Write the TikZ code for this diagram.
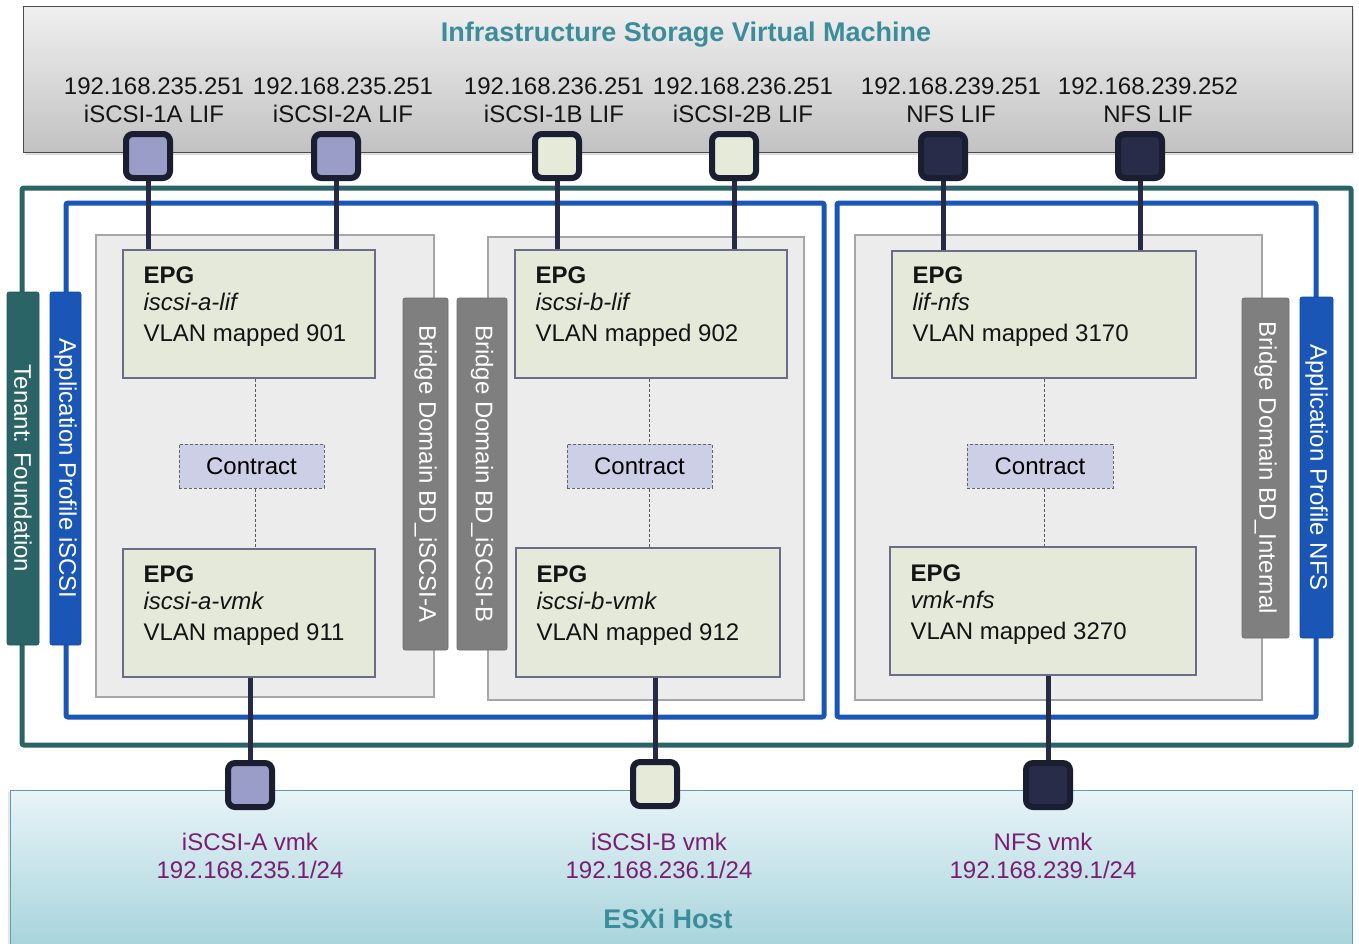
\documentclass[tikz,border=0pt]{standalone}
\usepackage{fontspec}
\setmainfont{Liberation Sans}
\usetikzlibrary{shadows}

\definecolor{tenantc}{HTML}{2B6467}
\definecolor{appc}{HTML}{1A56B6}
\definecolor{bdbar}{HTML}{7F7F7F}
\definecolor{bdfill}{HTML}{ECECEC}
\definecolor{bdline}{HTML}{A6A6A6}
\definecolor{epgfill}{HTML}{E5E9DA}
\definecolor{epgline}{HTML}{6C6C86}
\definecolor{ctfill}{HTML}{CDCFE6}
\definecolor{wirec}{HTML}{262A45}
\definecolor{portedge}{HTML}{1B1D30}
\definecolor{portA}{HTML}{9B9DC9}
\definecolor{portB}{HTML}{E6EAD9}
\definecolor{portN}{HTML}{282C48}
\definecolor{titlec}{HTML}{3B8D9B}
\definecolor{vmkc}{HTML}{7A1E70}
\definecolor{svmtop}{HTML}{F0F0F0}
\definecolor{svmbot}{HTML}{C2C2C2}
\definecolor{esxtop}{HTML}{E8F4F8}
\definecolor{esxbot}{HTML}{A6D3DB}
\definecolor{esxline}{HTML}{5E9FA4}

\pgfdeclarelayer{front}
\pgfsetlayers{main,front}

\begin{document}
\begin{tikzpicture}[x=1pt,y=-1pt,
  lbl/.style={font=\fontsize{24}{28}\selectfont, inner sep=0pt, text=black!92},
  titletxt/.style={font=\fontsize{27}{30}\selectfont\bfseries, inner sep=0pt, text=titlec},
  vmktxt/.style={font=\fontsize{24}{28}\selectfont, inner sep=0pt, text=vmkc, align=center, anchor=north},
  bartxt/.style={font=\fontsize{24}{28}\selectfont, inner sep=0pt, text=white, rotate=-90},
  barbox/.style={bartxt, rounded corners=2pt, draw=#1!85!black, line width=0.6pt, fill=#1},
  bdbox/.style={draw=bdline, fill=bdfill, line width=1.2pt, inner sep=0pt},
  epgbox/.style={draw=epgline, fill=epgfill, line width=1.4pt, inner sep=0pt},
  epgtxt/.style={font=\fontsize{24}{27}\selectfont, inner sep=0pt, align=left, anchor=north west, text=black!92},
  ctbox/.style={draw=black!60, dash pattern=on 3pt off 2pt, fill=ctfill, line width=1pt,
    minimum width=145pt, minimum height=44pt, inner sep=0pt, font=\fontsize{24}{28}\selectfont},
  dashln/.style={draw=black!65, dash pattern=on 3pt off 2pt, line width=1pt},
  wireln/.style={draw=wirec, line width=5pt},
  portbox/.style={draw=portedge, line width=6pt, rounded corners=7pt, minimum size=44pt, inner sep=0pt, fill=#1},
  tframe/.style={draw=tenantc, line width=5pt, rounded corners=2pt},
  aframe/.style={draw=appc, line width=5pt, rounded corners=2pt}]

\path[use as bounding box] (0,0) rectangle (1359,943);

% storage VM and host panels
\node[draw=black!70, line width=1pt, top color=svmtop, bottom color=svmbot,
  drop shadow={shadow xshift=2pt, shadow yshift=-3pt, opacity=0.25},
  minimum width=1329pt, minimum height=146pt, inner sep=0pt] (svm) at (687.5,79) {};
\node[titletxt, anchor=base] (svmtitle) at (686,41) {Infrastructure Storage Virtual Machine};

\node[draw=esxline, line width=1pt, top color=esxtop, bottom color=esxbot,
  drop shadow={shadow xshift=-2pt, shadow yshift=-2pt, opacity=0.2},
  minimum width=1342pt, minimum height=160pt, inner sep=0pt] (esx) at (681,870) {};
\node[titletxt, anchor=base] (esxtitle) at (668,928) {ESXi Host};

% LIF labels
\node[lbl, anchor=north, align=center] (l1) at (154,78) {192.168.235.251\\iSCSI-1A LIF};
\node[lbl, anchor=north, align=center] (l2) at (343,78) {192.168.235.251\\iSCSI-2A LIF};
\node[lbl, anchor=north, align=center] (l3) at (554,78) {192.168.236.251\\iSCSI-1B LIF};
\node[lbl, anchor=north, align=center] (l4) at (743,78) {192.168.236.251\\iSCSI-2B LIF};
\node[lbl, anchor=north, align=center] (l5) at (951,78) {192.168.239.251\\NFS LIF};
\node[lbl, anchor=north, align=center] (l6) at (1148,78) {192.168.239.252\\NFS LIF};

% tenant and application profile frames
\draw[tframe] (22,188) rectangle (1351,745);
\draw[aframe] (66,203) rectangle (824,717);
\draw[aframe] (837,203) rectangle (1316,717);

% bridge domains
\node[bdbox, minimum width=338pt, minimum height=462pt] (bdA) at (265,466) {};
\node[bdbox, minimum width=316pt, minimum height=463pt] (bdB) at (646,468.5) {};
\node[bdbox, minimum width=407pt, minimum height=465pt] (bdN) at (1058.5,467.5) {};

% vertical labels
\node[barbox=tenantc, minimum width=353pt, minimum height=32pt] (tenant) at (23,468.5) {Tenant: Foundation};
\node[barbox=appc, minimum width=353pt, minimum height=31pt] (apA) at (65.5,468.5) {Application Profile iSCSI};
\node[barbox=appc, minimum width=341pt, minimum height=33pt] (apN) at (1316.5,467.5) {Application Profile NFS};
\node[barbox=bdbar, minimum width=352pt, minimum height=45pt] (bdAbar) at (425.5,474) {Bridge Domain BD\_iSCSI-A};
\node[barbox=bdbar, minimum width=352pt, minimum height=50pt] (bdBbar) at (482,474) {Bridge Domain BD\_iSCSI-B};
\node[barbox=bdbar, minimum width=340pt, minimum height=47pt] (bdNbar) at (1265.5,468) {Bridge Domain BD\_Internal};

% endpoint groups
\node[epgbox, minimum width=252pt, minimum height=128pt] (eAl) at (249,314) {};
\node[epgbox, minimum width=252pt, minimum height=128pt] (eAv) at (249,613) {};
\node[epgbox, minimum width=272pt, minimum height=128pt] (eBl) at (651,314) {};
\node[epgbox, minimum width=264pt, minimum height=129pt] (eBv) at (648,612.5) {};
\node[epgbox, minimum width=304pt, minimum height=127pt] (eNl) at (1044,314.5) {};
\node[epgbox, minimum width=306pt, minimum height=128pt] (eNv) at (1043,611) {};

\node[epgtxt] (tAl) at ([shift={(21,17)}]eAl.north west) {\textbf{EPG}\\\textit{iscsi-a-lif}\\[4pt]VLAN mapped 901};
\node[epgtxt] (tAv) at ([shift={(21,17)}]eAv.north west) {\textbf{EPG}\\\textit{iscsi-a-vmk}\\[4pt]VLAN mapped 911};
\node[epgtxt] (tBl) at ([shift={(21,17)}]eBl.north west) {\textbf{EPG}\\\textit{iscsi-b-lif}\\[4pt]VLAN mapped 902};
\node[epgtxt] (tBv) at ([shift={(21,18)}]eBv.north west) {\textbf{EPG}\\\textit{iscsi-b-vmk}\\[4pt]VLAN mapped 912};
\node[epgtxt] (tNl) at ([shift={(21,16)}]eNl.north west) {\textbf{EPG}\\\textit{lif-nfs}\\[4pt]VLAN mapped 3170};
\node[epgtxt] (tNv) at ([shift={(21,18)}]eNv.north west) {\textbf{EPG}\\\textit{vmk-nfs}\\[4pt]VLAN mapped 3270};

% contracts
\node[ctbox] (cA) at (251.5,466) {Contract};
\node[ctbox] (cB) at (639.5,466) {Contract};
\node[ctbox, minimum width=146pt] (cN) at (1040,466) {Contract};

\coordinate (dA) at (255,0);
\coordinate (dB) at (649,0);
\coordinate (dN) at (1044,0);
\draw[dashln] (dA |- eAl.south) -- (dA |- cA.north);
\draw[dashln] (dA |- cA.south) -- (dA |- eAv.north);
\draw[dashln] (dB |- eBl.south) -- (dB |- cB.north);
\draw[dashln] (dB |- cB.south) -- (dB |- eBv.north);
\draw[dashln] (dN |- eNl.south) -- (dN |- cN.north);
\draw[dashln] (dN |- cN.south) -- (dN |- eNv.north);

% interface ports
\begin{pgfonlayer}{front}
\node[portbox=portA] (p1) at (148,156) {};
\node[portbox=portA] (p2) at (336,156) {};
\node[portbox=portB] (p3) at (557,156) {};
\node[portbox=portB] (p4) at (734,156) {};
\node[portbox=portN] (p5) at (943,156) {};
\node[portbox=portN] (p6) at (1140,156) {};
\node[portbox=portA] (q1) at (250,785) {};
\node[portbox=portB] (q2) at (655,784) {};
\node[portbox=portN] (q3) at (1048,785) {};
\end{pgfonlayer}

% links from LIFs to EPGs and from EPGs to vmkernel ports
\draw[wireln] (p1) -- (p1 |- eAl.north);
\draw[wireln] (p2) -- (p2 |- eAl.north);
\draw[wireln] (p3) -- (p3 |- eBl.north);
\draw[wireln] (p4) -- (p4 |- eBl.north);
\draw[wireln] (p5) -- (p5 |- eNl.north);
\draw[wireln] (p6) -- (p6 |- eNl.north);
\draw[wireln] (q1 |- eAv.south) -- (q1);
\draw[wireln] (q2 |- eBv.south) -- (q2);
\draw[wireln] (q3 |- eNv.south) -- (q3);

% vmkernel labels
\node[vmktxt] (v1) at (250,833) {iSCSI-A vmk\\192.168.235.1/24};
\node[vmktxt] (v2) at (659,833) {iSCSI-B vmk\\192.168.236.1/24};
\node[vmktxt] (v3) at (1043,833) {NFS vmk\\192.168.239.1/24};

\end{tikzpicture}
\end{document}
